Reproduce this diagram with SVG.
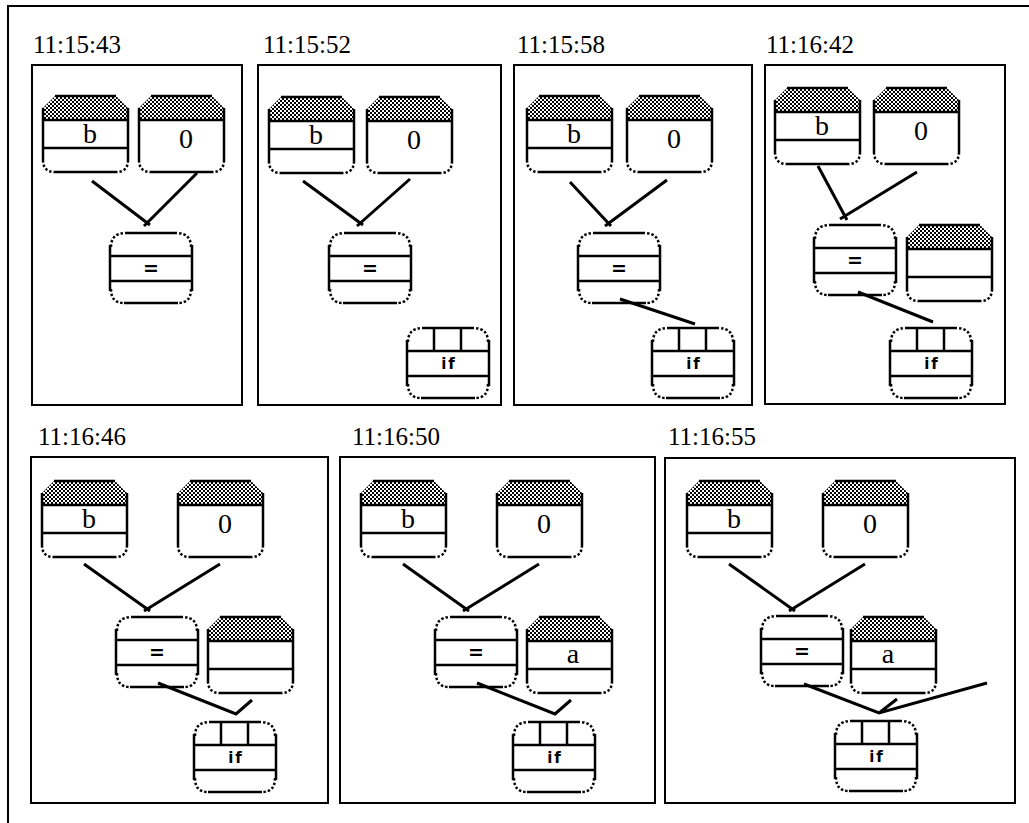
<svg xmlns="http://www.w3.org/2000/svg" xmlns:xlink="http://www.w3.org/1999/xlink" width="1029" height="823" viewBox="0 0 1029 823">
<style>
.k{fill:none;stroke:#000;stroke-width:2.5}
.d{fill:none;stroke:#000;stroke-width:2.5;stroke-dasharray:2.5 2}
.fr{fill:none;stroke:#000;stroke-width:2}
.c{fill:none;stroke:#000;stroke-width:3}
.lbl{font-family:"Liberation Serif",serif;font-size:25px;fill:#000}
.v{font-family:"Liberation Serif",serif;font-size:28px;text-anchor:middle;fill:#000}
.o{font-family:"DejaVu Sans",sans-serif;font-weight:bold;font-size:19px;text-anchor:middle;fill:#000}
.f{font-family:"DejaVu Sans",sans-serif;font-weight:bold;font-size:15px;letter-spacing:2px;text-anchor:middle;fill:#000}
</style>
<defs>
<pattern id="hatch" width="4" height="4" patternUnits="userSpaceOnUse">
<rect width="4" height="4" fill="#fff"/>
<path d="M0,0L4,4M4,0L0,4" stroke="#000" stroke-width="1"/>
</pattern>
<g id="val0">
<path d="M12,0H73L85,12V24H0V12Z" fill="url(#hatch)"/>
<path class="k" d="M12,0H73M0,24H85M0,12V64M85,12V64M12,76H73"/>
<path class="d" d="M0,64Q0,76 12,76M85,64Q85,76 73,76"/>
</g>
<g id="val">
<use xlink:href="#val0"/>
<path class="k" d="M0,52H85"/>
</g>
<g id="op">
<path class="d" d="M1,14Q1,0 16,0M81,14Q81,0 66,0M1,56Q1,70 14,70M81,56Q81,70 68,70"/>
<path class="k" d="M16,0H66M0,12V58M82,12V58M0,23H82M0,48H82M14,70H68"/>
</g>
<g id="ifn">
<use xlink:href="#op"/>
<path class="k" d="M27,0V23M54,0V23"/>
</g>
</defs>
<rect width="1029" height="823" fill="#fff"/>
<path class="fr" d="M8,823V6H1029"/>
<g id="frames">
<rect class="fr" x="32" y="65" width="210" height="340"/>
<rect class="fr" x="258" y="65" width="243" height="340"/>
<rect class="fr" x="514" y="65" width="238" height="340"/>
<rect class="fr" x="765" y="65" width="240" height="339"/>
<rect class="fr" x="31" y="457" width="297" height="346"/>
<rect class="fr" x="340" y="457" width="315" height="346"/>
<rect class="fr" x="665" y="458" width="350" height="345"/>
</g>
<g id="labels">
<text class="lbl" x="33" y="53">11:15:43</text>
<text class="lbl" x="263" y="53">11:15:52</text>
<text class="lbl" x="517" y="53">11:15:58</text>
<text class="lbl" x="766" y="53">11:16:42</text>
<text class="lbl" x="38" y="445">11:16:46</text>
<text class="lbl" x="352" y="445">11:16:50</text>
<text class="lbl" x="668" y="445">11:16:55</text>
</g>
<g id="connectors">
<path class="c" d="M92,181L150,225M197,173L144,226"/>
<path class="c" d="M303,181L363,225M410,179L357,226"/>
<path class="c" d="M570,182L611,226M667,180L605,226M620,299L695,324"/>
<path class="c" d="M818,166L847,220M917,172L840,219M858,292L933,322"/>
<path class="c" d="M84,564L150,611M220,564L144,611M158,683L236,714L252,700"/>
<path class="c" d="M403,564L469,611M539,564L463,611M477,683L555,714L571,700"/>
<path class="c" d="M729,564L795,611M865,564L789,611M804,684L879,713L987,683M879,713L897,699"/>
</g>
<g id="p1-b"><use xlink:href="#val" x="43" y="96"/><text class="v" x="90" y="143">b</text></g>
<g id="p1-0"><use xlink:href="#val0" x="139" y="96"/><text class="v" x="186" y="148">0</text></g>
<g id="p1-eq"><use xlink:href="#op" x="110" y="233"/><text class="o" x="151" y="275">=</text></g>
<g id="p2-b"><use xlink:href="#val" x="269" y="97"/><text class="v" x="316" y="144">b</text></g>
<g id="p2-0"><use xlink:href="#val0" x="367" y="97"/><text class="v" x="414" y="149">0</text></g>
<g id="p2-eq"><use xlink:href="#op" x="329" y="233"/><text class="o" x="370" y="275">=</text></g>
<g id="p2-if"><use xlink:href="#ifn" x="407" y="328"/><text class="f" x="449" y="369">if</text></g>
<g id="p3-b"><use xlink:href="#val" x="527" y="96"/><text class="v" x="574" y="143">b</text></g>
<g id="p3-0"><use xlink:href="#val0" x="627" y="96"/><text class="v" x="674" y="148">0</text></g>
<g id="p3-eq"><use xlink:href="#op" x="578" y="233"/><text class="o" x="619" y="275">=</text></g>
<g id="p3-if"><use xlink:href="#ifn" x="652" y="328"/><text class="f" x="694" y="369">if</text></g>
<g id="p4-b"><use xlink:href="#val" x="775" y="88"/><text class="v" x="822" y="135">b</text></g>
<g id="p4-0"><use xlink:href="#val0" x="874" y="88"/><text class="v" x="921" y="140">0</text></g>
<g id="p4-eq"><use xlink:href="#op" x="814" y="225"/><text class="o" x="855" y="267">=</text></g>
<g id="p4-v"><use xlink:href="#val" x="907" y="225"/></g>
<g id="p4-if"><use xlink:href="#ifn" x="890" y="328"/><text class="f" x="932" y="369">if</text></g>
<g id="p5-b"><use xlink:href="#val" x="42" y="481"/><text class="v" x="89" y="528">b</text></g>
<g id="p5-0"><use xlink:href="#val0" x="178" y="481"/><text class="v" x="225" y="533">0</text></g>
<g id="p5-eq"><use xlink:href="#op" x="116" y="617"/><text class="o" x="157" y="659">=</text></g>
<g id="p5-v"><use xlink:href="#val" x="208" y="617"/></g>
<g id="p5-if"><use xlink:href="#ifn" x="194" y="722"/><text class="f" x="236" y="763">if</text></g>
<g id="p6-b"><use xlink:href="#val" x="361" y="481"/><text class="v" x="408" y="528">b</text></g>
<g id="p6-0"><use xlink:href="#val0" x="497" y="481"/><text class="v" x="544" y="533">0</text></g>
<g id="p6-eq"><use xlink:href="#op" x="435" y="617"/><text class="o" x="476" y="659">=</text></g>
<g id="p6-a"><use xlink:href="#val" x="527" y="617"/><text class="v" x="573" y="663">a</text></g>
<g id="p6-if"><use xlink:href="#ifn" x="513" y="722"/><text class="f" x="555" y="763">if</text></g>
<g id="p7-b"><use xlink:href="#val" x="687" y="481"/><text class="v" x="734" y="528">b</text></g>
<g id="p7-0"><use xlink:href="#val0" x="823" y="481"/><text class="v" x="870" y="533">0</text></g>
<g id="p7-eq"><use xlink:href="#op" x="761" y="616"/><text class="o" x="802" y="658">=</text></g>
<g id="p7-a"><use xlink:href="#val" x="851" y="617"/><text class="v" x="888" y="663">a</text></g>
<g id="p7-if"><use xlink:href="#ifn" x="835" y="721"/><text class="f" x="877" y="762">if</text></g>
</svg>
